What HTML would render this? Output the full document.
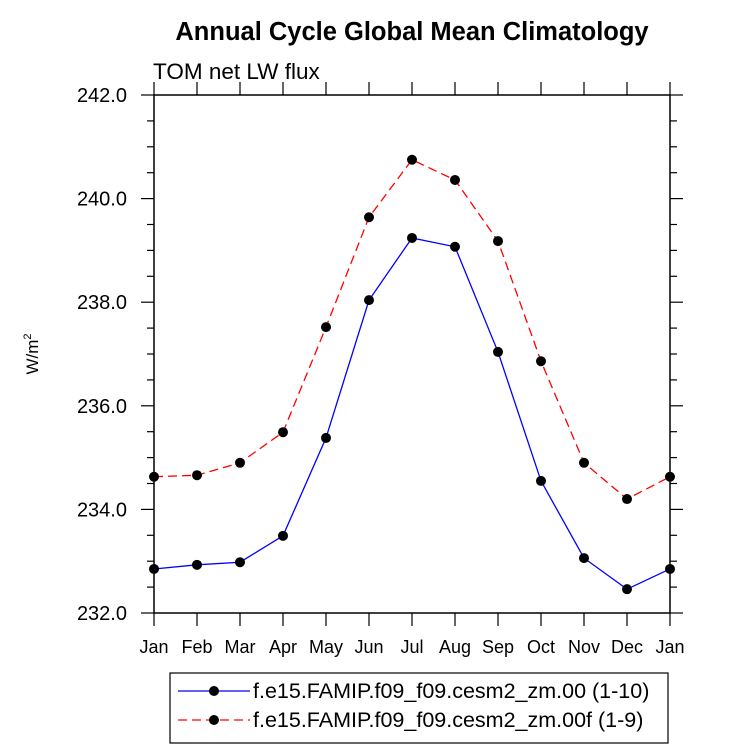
<!DOCTYPE html>
<html><head><meta charset="utf-8"><style>
body{margin:0;background:#fff;}
svg text{font-family:"Liberation Sans",sans-serif;}
</style></head><body>
<svg id="chart" width="733" height="748" xmlns="http://www.w3.org/2000/svg">
<text x="412" y="40" text-anchor="middle" font-size="25.5" font-weight="bold">Annual Cycle Global Mean Climatology</text>
<text x="153" y="79" font-size="22.5">TOM net LW flux</text>
<text transform="translate(38,354) rotate(-90)" text-anchor="middle" font-size="17">W/m<tspan dy="-7" font-size="11">2</tspan></text>
<g id="axes"></g>
<g id="series"></g>
<g>
<rect x="170" y="673" width="498" height="70" fill="#fff" stroke="#000" stroke-width="1.2"/>
<g>
<line x1="178" y1="691" x2="250" y2="691" stroke="#0000ff" stroke-width="1.2"/>
<circle cx="214" cy="691" r="5" fill="#000"/>
<text x="253" y="698" font-size="21.5">f.e15.FAMIP.f09_f09.cesm2_zm.00 (1-10)</text></g>
<g>
<line x1="178" y1="720" x2="250" y2="720" stroke="#ff0000" stroke-width="1.2" stroke-dasharray="9,5"/>
<circle cx="214" cy="720" r="5" fill="#000"/>
<text x="253" y="727" font-size="21.5">f.e15.FAMIP.f09_f09.cesm2_zm.00f (1-9)</text></g>
</g>
</svg>
<script>
const months=["Jan","Feb","Mar","Apr","May","Jun","Jul","Aug","Sep","Oct","Nov","Dec","Jan"];
const blueVals=[232.85,232.93,232.98,233.49,235.38,238.04,239.24,239.07,237.04,234.55,233.06,232.46,232.85];
const redVals=[234.63,234.66,234.90,235.49,237.52,239.64,240.75,240.36,239.18,236.86,234.90,234.20,234.63];
const yTicks=[232,234,236,238,240,242];
const X0=154,X1=670,Y0=613,Y1=95,YMIN=232,YMAX=242;
const NS="http://www.w3.org/2000/svg";
function xs(i){return X0+(X1-X0)*i/(months.length-1);}
function ys(v){return Y0-(v-YMIN)/(YMAX-YMIN)*(Y0-Y1);}
function mk(t,a,p){const e=document.createElementNS(NS,t);for(const k in a)e.setAttribute(k,a[k]);p.appendChild(e);return e;}
const ax=document.getElementById('axes');
const fr=mk('rect',{x:X0,y:Y1,width:X1-X0,height:Y0-Y1,fill:'none',stroke:'#000','stroke-width':1.5},ax);


for(let v=YMIN;v<=YMAX+1e-9;v+=0.5){
 const y=ys(v);const major=Math.abs(v%2)<1e-9;const L=major?13:7;
 mk('line',{x1:X0-L,y1:y,x2:X0,y2:y,stroke:'#000','stroke-width':1.2},ax);
 mk('line',{x1:X1,y1:y,x2:X1+L,y2:y,stroke:'#000','stroke-width':1.2},ax);
}
yTicks.forEach(v=>{const t=mk('text',{x:X0-27,y:ys(v)+7,'text-anchor':'end','font-size':20},ax);t.textContent=v.toFixed(1);

});
months.forEach((m,i)=>{const x=xs(i);
 mk('line',{x1:x,y1:Y0,x2:x,y2:Y0+13,stroke:'#000','stroke-width':1.2},ax);
 mk('line',{x1:x,y1:Y1,x2:x,y2:Y1-13,stroke:'#000','stroke-width':1.2},ax);
 const t=mk('text',{x:x,y:Y0+40,'text-anchor':'middle','font-size':18},ax);t.textContent=m;
 
 });
const sg=document.getElementById('series');
function series(vals,color,dash,name){
 const g=mk('g',{},sg);
 
 
 const p=mk('polyline',{points:vals.map((v,i)=>xs(i)+','+ys(v)).join(' '),fill:'none',stroke:color,'stroke-width':1.3},g);
 if(dash)p.setAttribute('stroke-dasharray','9,5');
 vals.forEach((v,i)=>{const c=mk('circle',{cx:xs(i),cy:ys(v),r:5,fill:'#000'},g);
  
  });
}
series(blueVals,'#0000ff',false,'series-blue');
series(redVals,'#ff0000',true,'series-red');
</script>
</body></html>
